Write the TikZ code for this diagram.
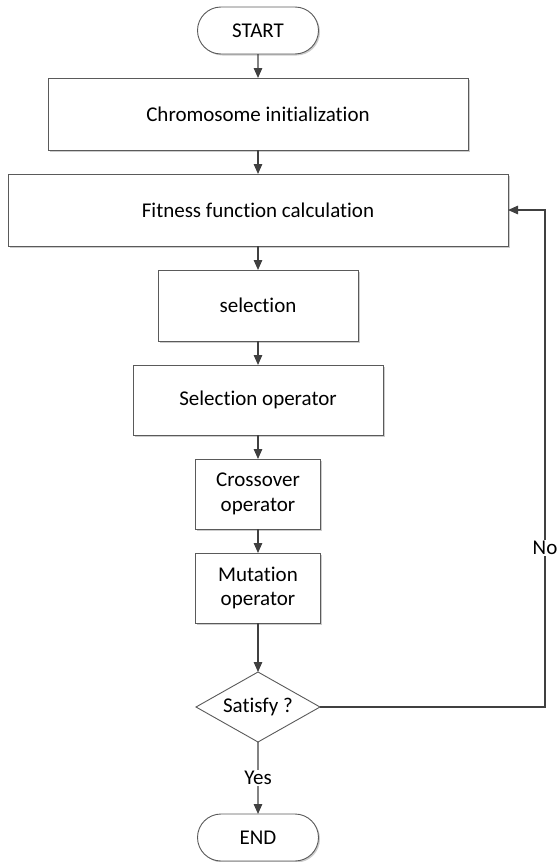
\documentclass[tikz,border=0pt]{standalone}
\usepackage{fontspec}
\setmainfont{Carlito}[Ligatures=NoCommon]
\usetikzlibrary{arrows.meta,positioning,shapes.geometric,shapes.misc,shadows}
\definecolor{flowline}{RGB}{64,64,64}
\definecolor{flowedge}{RGB}{90,90,90}
\tikzset{
  stepbox/.style={rectangle,draw=flowedge,line width=0.9pt,fill=white,
                  minimum height=70pt,inner sep=2pt,outer sep=0pt,align=center,
                  drop shadow={shadow xshift=1.5pt,shadow yshift=-1.5pt,
                               fill=black!20,opacity=1}},
  term/.style={stepbox,rounded rectangle,minimum width=125pt,minimum height=47pt},
  decide/.style={diamond,draw=flowedge,line width=0.9pt,fill=white,aspect=1.77,
                 minimum width=124pt,minimum height=70pt,inner sep=0pt,outer sep=0pt},
  flow/.style={-{Triangle[length=10pt,width=8.5pt]},line width=1.3pt,flowline},
  tag/.style={fill=white,text=black,inner sep=1pt},
}
\begin{document}
\begin{tikzpicture}[x=1pt,y=-1pt,font=\fontsize{21}{24.5}\selectfont]
    \useasboundingbox (0,0) rectangle (557,862);
    \node[term] (start) at (258,30.5) {START};
    \node[stepbox,minimum width=420pt,minimum height=72pt,below=24pt of start] (init)
      {Chromosome initialization};
    \node[stepbox,minimum width=500pt,minimum height=72pt,below=24pt of init] (fit)
      {Fitness function calculation};
    \node[stepbox,minimum width=200pt,minimum height=71pt,below=24pt of fit] (sel)
      {selection};
    \node[stepbox,minimum width=250pt,below=24pt of sel] (selop)
      {Selection operator};
    \node[stepbox,minimum width=125pt,below=24pt of selop] (cross)
      {Crossover\\operator};
    \node[stepbox,minimum width=125pt,below=24pt of cross] (mut)
      {Mutation\\operator};
    \node[decide,below=49pt of mut] (sat) {Satisfy ?};
    \node[term,below=72pt of sat] (end) {END};
    \coordinate (loop) at (545,0);
    \draw[flow] (start) -- (init);
    \draw[flow] (init) -- (fit);
    \draw[flow] (fit) -- (sel);
    \draw[flow] (sel) -- (selop);
    \draw[flow] (selop) -- (cross);
    \draw[flow] (cross) -- (mut);
    \draw[flow] (mut) -- (sat);
    \draw[flow] (sat) -- node[tag] {Yes} (end);
    \draw[flow] (sat.east) -- (sat.east -| loop)
      -- node[tag,pos=0.32] {No} (fit.east -| loop) -- (fit.east);
  \end{tikzpicture}
\end{document}
